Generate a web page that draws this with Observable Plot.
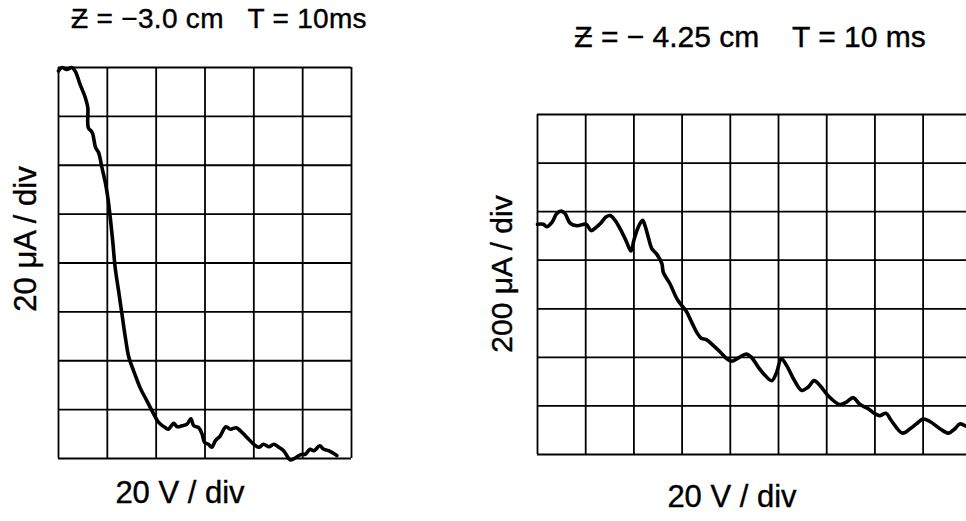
<!DOCTYPE html>
<html>
<head>
<meta charset="utf-8">
<script src="https://cdn.jsdelivr.net/npm/d3@7"></script>
<script src="https://cdn.jsdelivr.net/npm/@observablehq/plot@0.6"></script>
<style>
  html, body { margin: 0; padding: 0; background: #fff; overflow: hidden; }
  #fig { position: relative; width: 966px; height: 521px; overflow: hidden; font-family: "Liberation Sans", Arial, sans-serif; color: #000; }
  .panel { position: absolute; top: 0; }
  .lbl { position: absolute; white-space: pre; line-height: 1; -webkit-text-stroke: 0.4px #000; }
  .rot { transform: translate(-50%, -50%) rotate(-90deg); }
  .ctr { transform: translate(-50%, -50%); }
</style>
</head>
<body>
<div id="fig"></div>
<script>
// Oscilloscope traces of probe current vs. sweep voltage, in screen divisions.

// Left trace: Z = -3.0 cm (20 µA/div vertical, 20 V/div horizontal)
const leftV = [0, 0.07, 0.17, 0.27, 0.34, 0.44, 0.55, 0.60, 0.61, 0.69, 0.76, 0.82, 0.89, 0.96, 1.01, 1.06, 1.11, 1.16, 1.23, 1.30, 1.37, 1.44, 1.54, 1.67, 1.81, 1.95, 2.05, 2.19, 2.25, 2.36, 2.43, 2.53, 2.63, 2.71, 2.77, 2.87, 2.94, 2.99, 3.07, 3.14, 3.21, 3.31, 3.43, 3.52, 3.64, 3.72, 3.86, 4.00, 4.10, 4.20, 4.31, 4.41, 4.51, 4.61, 4.75, 4.86, 4.96, 5.06, 5.15, 5.23, 5.35, 5.43, 5.53, 5.70];
const leftI = [7.93, 8.0, 7.96, 8.0, 7.93, 7.66, 7.38, 7.18, 6.77, 6.67, 6.36, 6.26, 5.95, 5.64, 5.34, 4.93, 4.45, 3.91, 3.43, 2.95, 2.47, 2.07, 1.79, 1.45, 1.18, 0.91, 0.74, 0.63, 0.60, 0.72, 0.65, 0.67, 0.70, 0.81, 0.67, 0.63, 0.50, 0.33, 0.29, 0.23, 0.36, 0.46, 0.65, 0.60, 0.63, 0.57, 0.43, 0.29, 0.23, 0.29, 0.24, 0.29, 0.23, 0.16, -0.03, 0.02, 0.08, 0.09, 0.19, 0.16, 0.26, 0.19, 0.16, 0.06];

// Right trace: Z = -4.25 cm (200 µA/div vertical, 20 V/div horizontal)
const rightV = [0, 0.12, 0.19, 0.30, 0.40, 0.49, 0.57, 0.68, 0.82, 1.01, 1.11, 1.22, 1.31, 1.42, 1.51, 1.61, 1.75, 1.85, 1.94, 2.00, 2.09, 2.18, 2.23, 2.30, 2.37, 2.47, 2.58, 2.61, 2.75, 2.89, 2.99, 3.08, 3.20, 3.30, 3.39, 3.51, 3.65, 3.79, 3.93, 4.03, 4.17, 4.33, 4.44, 4.58, 4.72, 4.86, 4.96, 5.06, 5.17, 5.31, 5.48, 5.62, 5.74, 5.86, 6.03, 6.27, 6.41, 6.55, 6.68, 6.86, 7.00, 7.10, 7.23, 7.34, 7.57, 7.73, 7.86, 8.00, 8.14, 8.35, 8.52, 8.66, 8.76, 8.89];
const rightI = [4.74, 4.74, 4.69, 4.78, 4.96, 5.01, 4.96, 4.76, 4.71, 4.74, 4.61, 4.68, 4.76, 4.89, 4.92, 4.82, 4.58, 4.37, 4.19, 4.41, 4.68, 4.82, 4.71, 4.47, 4.24, 4.13, 3.93, 3.75, 3.51, 3.21, 3.07, 2.96, 2.72, 2.52, 2.40, 2.36, 2.24, 2.11, 1.97, 1.92, 1.99, 2.07, 2.00, 1.80, 1.63, 1.52, 1.69, 1.97, 1.83, 1.56, 1.32, 1.39, 1.52, 1.42, 1.21, 1.03, 1.08, 1.17, 1.04, 0.94, 0.84, 0.80, 0.85, 0.70, 0.44, 0.53, 0.63, 0.73, 0.68, 0.53, 0.44, 0.53, 0.63, 0.58];

// Graticule divisions
const leftCols = [0, 1, 2, 3, 4, 5, 6];
const leftRows = [0, 1, 2, 3, 4, 5, 6, 7, 8];
const rightCols = [0, 1, 2, 3, 4, 5, 6, 7, 8];
const rightRows = [0, 1, 2, 3, 4, 5, 6, 7];

// Labels
const leftTitle = "Ƶ = −3.0 cm   T = 10ms";
const rightTitle = "Ƶ = − 4.25 cm    T = 10 ms";
const leftYLabel = "20 μA / div";
const rightYLabel = "200 μA / div";
const leftXLabel = "20 V / div";
const rightXLabel = "20 V / div";

const toRows = (v, i) => v.map((d, k) => ({v: d, i: i[k]}));

function scope({data, cols, rows, xMax, width, height, margins}) {
  const yMax = rows[rows.length - 1];
  return Plot.plot({
    width, height,
    marginLeft: margins[0], marginRight: margins[1], marginTop: margins[2], marginBottom: margins[3],
    x: {domain: [0, xMax], axis: null},
    y: {domain: [0, yMax], axis: null},
    marks: [
      Plot.ruleX(cols, {y1: 0, y2: yMax, stroke: "#000", strokeWidth: 1.8}),
      Plot.ruleY(rows, {x1: 0, x2: xMax, stroke: "#000", strokeWidth: 1.8}),
      Plot.line(data, {x: "v", y: "i", stroke: "#000", strokeWidth: 3.6, strokeLinejoin: "round", strokeLinecap: "round", curve: "catmull-rom"})
    ]
  });
}

const fig = document.getElementById("fig");

const left = scope({
  data: toRows(leftV, leftI), cols: leftCols, rows: leftRows, xMax: 6,
  width: 360, height: 470, margins: [58, 9, 67, 12]
});
left.classList.add("panel");
left.style.left = "0px";
fig.appendChild(left);

const right = scope({
  data: toRows(rightV, rightI), cols: rightCols, rows: rightRows, xMax: 8.9,
  width: 486, height: 470, margins: [57, 0, 114, 16]
});
right.classList.add("panel");
right.style.left = "480px";
fig.appendChild(right);

function label(text, x, y, size, cls, spacing = 0) {
  const d = document.createElement("div");
  d.className = "lbl " + cls;
  d.textContent = text;
  d.style.left = x + "px";
  d.style.top = y + "px";
  d.style.fontSize = size + "px";
  d.style.letterSpacing = spacing + "px";
  fig.appendChild(d);
}

label(leftTitle, 219, 19, 28, "ctr", 0.3);
label(rightTitle, 750, 37, 30, "ctr");
label(leftYLabel, 25, 239, 31, "rot");
label(rightYLabel, 502, 274, 30, "rot");
label(leftXLabel, 180, 492, 31, "ctr");
label(rightXLabel, 732, 496, 31, "ctr");
</script>
</body>
</html>
